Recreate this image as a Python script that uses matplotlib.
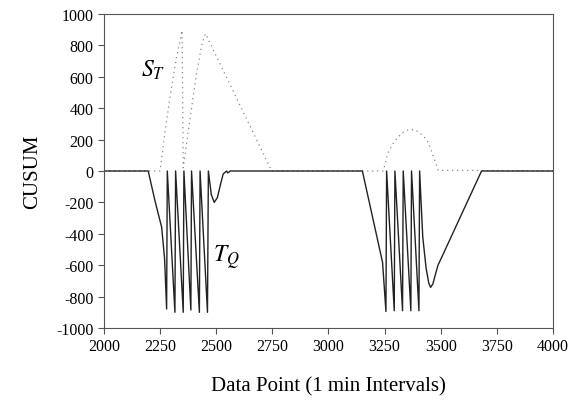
import numpy as np
import matplotlib.pyplot as plt

plt.rcParams['font.family'] = ['Liberation Serif', 'DejaVu Serif']
plt.rcParams['mathtext.fontset'] = 'stix'
plt.rcParams['axes.unicode_minus'] = False

# T_Q (solid) : data point, CUSUM
tq_x = [2000, 2197, 2227, 2257, 2270, 2279, 2282, 2316, 2319, 2353, 2356, 2387, 2390,
        2425, 2428, 2461, 2465, 2478, 2491, 2505, 2520, 2531, 2546, 2551, 2556, 2562,
        3151, 3241, 3256, 3259, 3293, 3296, 3330, 3333, 3367, 3370, 3403, 3406,
        3420, 3435, 3447, 3455, 3465, 3478, 3489, 3492, 3682, 4000]
tq_y = [0, 0, -189, -359, -560, -879, 0, -900, 0, -900, 0, -885, 0,
        -900, 0, -900, 0, -150, -200, -170, -80, -19, 0, -12, -8, 0,
        0, -582, -895, 0, -890, 0, -890, 0, -890, 0, -890, 0,
        -420, -620, -715, -741, -720, -650, -595, -588, 0, 0]

# S_T (dotted)
st_x = [2000, 2250, 2270, 2295, 2320, 2348, 2353, 2380, 2410, 2435, 2452, 2747,
        3244, 3266, 3290, 3311, 3335, 3356, 3385, 3422, 3445, 3460, 3489, 4000]
st_y = [0, 0, 230, 480, 700, 895, 20, 300, 600, 800, 875, 0,
        0, 119, 180, 218, 250, 263, 263, 225, 180, 123, 5, 0]

fig = plt.figure(figsize=(5.79, 4.02), dpi=100)
ax = fig.add_axes([0.1796, 0.1816, 0.7754, 0.7811])

ax.plot(st_x, st_y, color='#888888', linestyle=(0, (1, 3)), linewidth=0.9)
ax.plot(tq_x, tq_y, color='#222222', linewidth=1.0)

ax.set_xlim(2000, 4000)
ax.set_ylim(-1000, 1000)
ax.set_xticks(np.arange(2000, 4001, 250))
ax.set_yticks(np.arange(-1000, 1001, 200))
ax.tick_params(direction='out', length=4, labelsize=11.5, color='#555555', top=False, right=False)
for s in ax.spines.values():
    s.set_color('#555555')

ax.set_xlabel('Data Point (1 min Intervals)', fontsize=15, labelpad=16)
ax.set_ylabel('CUSUM', fontsize=15, labelpad=10)

ax.text(2218, 650, '$S_T$', fontsize=17, ha='center', va='center')
ax.text(2545, -545, '$T_Q$', fontsize=17, ha='center', va='center')

fig.savefig('out.png', dpi=100)
